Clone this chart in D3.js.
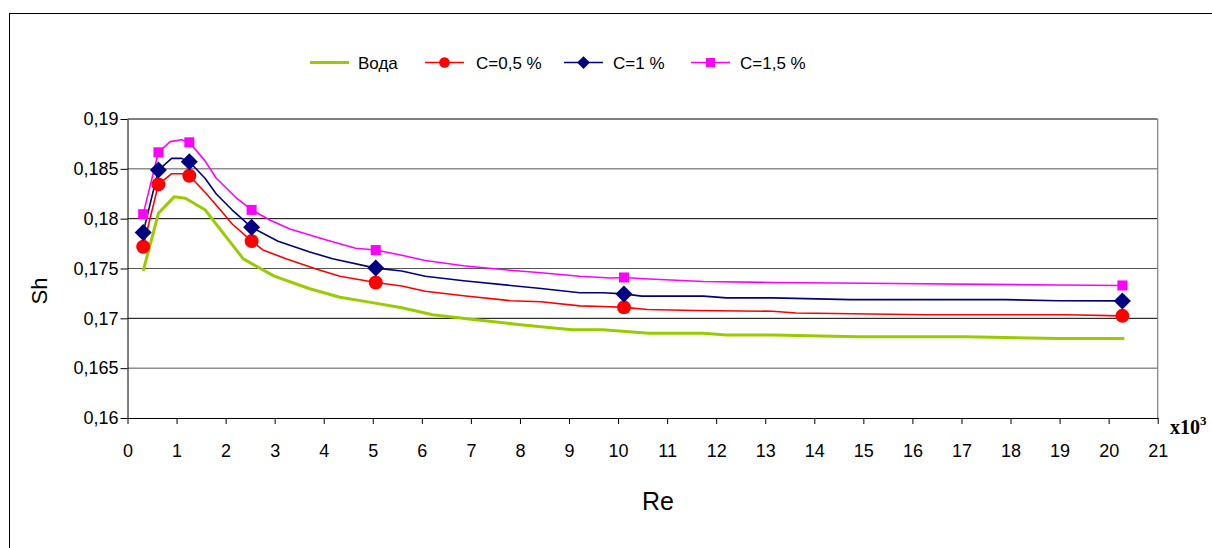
<!DOCTYPE html>
<html>
<head>
<meta charset="utf-8">
<script src="https://cdn.jsdelivr.net/npm/d3@7/dist/d3.min.js"></script>
<style>
  html, body { margin: 0; padding: 0; background: #fff; }
  svg { display: block; font-family: "Liberation Sans", Arial, sans-serif; }
</style>
</head>
<body>
<svg id="chart" width="1212" height="548"></svg>
<script>
// ---------- data ----------
const xTickValues = d3.range(0, 22);
const xTickLabels = ["0","1","2","3","4","5","6","7","8","9","10","11","12","13","14","15","16","17","18","19","20","21"];
const yTickValues = [0.16, 0.165, 0.17, 0.175, 0.18, 0.185, 0.19];
const yTickLabels = ["0,16", "0,165", "0,17", "0,175", "0,18", "0,185", "0,19"];
const seriesNames = ["Вода", "C=0,5 %", "C=1 %", "C=1,5 %"];

// Вода (water) – line only
const waterRe = [0.32, 0.63, 0.95, 1.18, 1.58, 1.97, 2.36, 2.99, 3.70, 4.33, 4.96, 5.59, 6.22, 7.01, 7.96, 9.06, 9.69, 10.63, 11.74, 12.21, 13.15, 14.89, 17.09, 18.98, 20.32];
const waterSh = [0.17475, 0.18054, 0.18219, 0.18205, 0.18089, 0.17843, 0.17597, 0.17423, 0.17299, 0.17212, 0.1716, 0.17106, 0.17036, 0.16991, 0.16938, 0.16886, 0.16886, 0.1685, 0.1685, 0.16832, 0.16832, 0.16815, 0.16815, 0.16798, 0.16798];

// C = 0.5 %
const c05Re = [0.32, 0.63, 0.90, 1.18, 1.26, 1.58, 1.89, 2.13, 2.53, 2.76, 3.23, 3.86, 4.33, 5.06, 5.59, 6.07, 6.85, 7.80, 8.43, 9.22, 9.69, 10.12, 10.60, 11.58, 13.15, 13.63, 16.31, 19.14, 20.28];
const c05Sh = [0.17718, 0.18344, 0.18451, 0.18451, 0.18431, 0.18265, 0.18089, 0.17949, 0.17775, 0.17686, 0.17598, 0.17493, 0.17423, 0.1736, 0.17324, 0.17271, 0.17226, 0.17177, 0.17167, 0.17125, 0.17118, 0.1711, 0.17089, 0.17078, 0.17071, 0.17054, 0.17036, 0.17036, 0.17025];

// C = 1 %
const c1Re = [0.32, 0.63, 0.90, 1.10, 1.26, 1.58, 1.81, 2.13, 2.53, 3.07, 3.70, 4.18, 5.06, 5.59, 6.07, 6.85, 8.43, 9.22, 9.69, 10.12, 10.48, 11.74, 12.21, 13.15, 14.73, 17.88, 18.98, 20.28];
const c1Sh = [0.17862, 0.18488, 0.18605, 0.18605, 0.18571, 0.18405, 0.18247, 0.18089, 0.17913, 0.17773, 0.17668, 0.17598, 0.17504, 0.17475, 0.17423, 0.17377, 0.17299, 0.17257, 0.17257, 0.17245, 0.17223, 0.17223, 0.17205, 0.17205, 0.17188, 0.17188, 0.17177, 0.17175];

// C = 1.5 %
const c15Re = [0.32, 0.63, 0.87, 1.10, 1.26, 1.58, 1.81, 2.21, 2.53, 2.91, 3.31, 4.02, 4.65, 5.06, 5.59, 6.07, 6.85, 7.80, 8.43, 9.22, 9.85, 10.12, 10.63, 11.74, 13.15, 15.04, 18.98, 20.28];
const c15Sh = [0.18045, 0.18666, 0.18773, 0.18791, 0.18766, 0.1858, 0.18405, 0.18212, 0.18088, 0.17984, 0.17897, 0.17791, 0.17703, 0.17685, 0.17633, 0.1758, 0.17528, 0.17482, 0.17458, 0.17423, 0.17405, 0.1741, 0.17395, 0.1737, 0.1736, 0.17352, 0.17334, 0.1733];

// measured points (markers)
const markerRe = [0.32, 0.63, 1.26, 2.53, 5.06, 10.12, 20.28];
const c05Markers = [0.17718, 0.18344, 0.18431, 0.17775, 0.1736, 0.1711, 0.17025];
const c1Markers = [0.17862, 0.18488, 0.18571, 0.17913, 0.17504, 0.17245, 0.17175];
const c15Markers = [0.18045, 0.18666, 0.18766, 0.18088, 0.17685, 0.1741, 0.1733];

// ---------- chart ----------
const svg = d3.select("#chart");
const W = 1212, H = 548;
svg.append("rect").attr("width", W).attr("height", H).attr("fill", "#fff");

// outer chart frame
svg.append("rect").attr("x", 9.5).attr("y", 13.5).attr("width", 1300).attr("height", 700)
  .attr("fill", "none").attr("stroke", "#000").attr("stroke-width", 1);

const x = d3.scaleLinear().domain([0, 21]).range([127.5, 1157.7]);
const y = d3.scaleLinear().domain([0.16, 0.19]).range([418, 119]);

// gridlines
svg.append("g").selectAll("line").data(yTickValues.filter(v => v > 0.16)).join("line")
  .attr("x1", x(0)).attr("x2", x(21))
  .attr("y1", d => y(d)).attr("y2", d => y(d))
  .attr("stroke", (d, i) => i % 2 === 0 ? "#555" : "#000")
  .attr("stroke-width", 1);

// right border of plot area
svg.append("line").attr("x1", x(21)).attr("x2", x(21)).attr("y1", y(0.19)).attr("y2", y(0.16))
  .attr("stroke", "#808080").attr("stroke-width", 1.2);

// axes
const yAxis = d3.axisLeft(y).tickValues(yTickValues)
  .tickFormat((d, i) => yTickLabels[i]).tickSize(7).tickSizeOuter(0).tickPadding(2);
const gy = svg.append("g").attr("transform", `translate(${x(0)},0)`).call(yAxis);
gy.selectAll("text").attr("font-size", 18).attr("fill", "#000").attr("font-family", "Liberation Sans, Arial, sans-serif");
gy.selectAll("line, path").attr("stroke", "#000");

const xAxis = d3.axisBottom(x).tickValues(xTickValues)
  .tickFormat((d, i) => xTickLabels[i]).tickSize(6).tickSizeOuter(0);
const gx = svg.append("g").attr("transform", `translate(0,${y(0.16)})`).call(xAxis);
gx.selectAll("text").attr("font-size", 18).attr("fill", "#000").attr("dy", null).attr("y", 39)
  .attr("font-family", "Liberation Sans, Arial, sans-serif");
gx.selectAll("line, path").attr("stroke", "#000");

// axis titles
svg.append("text").attr("x", 658).attr("y", 510).attr("text-anchor", "middle")
  .attr("font-size", 25).attr("fill", "#000").text("Re");
svg.append("text").attr("transform", "translate(47,291) rotate(-90)").attr("text-anchor", "middle")
  .attr("font-size", 22).attr("fill", "#000").text("Sh");
const xm = svg.append("text").attr("x", 1170).attr("y", 434)
  .attr("font-family", "Liberation Serif, Times New Roman, serif").attr("font-weight", "bold")
  .attr("font-size", 20).attr("fill", "#000");
xm.append("tspan").text("x10");
xm.append("tspan").attr("dy", -9).attr("font-size", 13).text("3");

// lines
const line = d3.line().x(d => x(d[0])).y(d => y(d[1]));
const zip = (a, b) => a.map((v, i) => [v, b[i]]);

const series = [
  { re: waterRe, sh: waterSh, color: "#99CC00", width: 3, markers: null, shape: null },
  { re: c05Re, sh: c05Sh, color: "#FF0000", width: 1.6, markers: c05Markers, shape: "circle" },
  { re: c1Re, sh: c1Sh, color: "#000080", width: 1.6, markers: c1Markers, shape: "diamond" },
  { re: c15Re, sh: c15Sh, color: "#FF00FF", width: 1.6, markers: c15Markers, shape: "square" }
];

function drawMarker(g, shape, cx, cy, color, scale) {
  if (shape === "circle") {
    g.append("circle").attr("cx", cx).attr("cy", cy).attr("r", 7 * scale).attr("fill", color);
  } else if (shape === "diamond") {
    const s = 8.5 * scale;
    g.append("path").attr("d", `M${cx},${cy - s}L${cx + s},${cy}L${cx},${cy + s}L${cx - s},${cy}Z`).attr("fill", color);
  } else if (shape === "square") {
    const s = 5 * scale;
    g.append("rect").attr("x", cx - s).attr("y", cy - s).attr("width", 2 * s).attr("height", 2 * s).attr("fill", color);
  }
}

const plot = svg.append("g");
series.forEach(s => {
  plot.append("path").datum(zip(s.re, s.sh)).attr("d", line)
    .attr("fill", "none").attr("stroke", s.color).attr("stroke-width", s.width)
    .attr("stroke-linejoin", "round");
});
series.forEach(s => {
  if (!s.markers) return;
  markerRe.forEach((r, i) => drawMarker(plot, s.shape, x(r), y(s.markers[i]), s.color, 1));
});

// legend
const legendX = [310, 425, 564, 691];
const legendTextX = [358, 476, 613, 740];
const legendY = 62.5;
const lg = svg.append("g");
series.forEach((s, i) => {
  lg.append("line").attr("x1", legendX[i]).attr("x2", legendX[i] + 39)
    .attr("y1", legendY).attr("y2", legendY)
    .attr("stroke", s.color).attr("stroke-width", s.width);
  if (s.shape) {
    const sc = s.shape === "circle" ? 0.76 : (s.shape === "diamond" ? 0.75 : 0.9);
    drawMarker(lg, s.shape, legendX[i] + 19.5, legendY, s.color, sc);
  }
  lg.append("text").attr("x", legendTextX[i]).attr("y", 68.5)
    .attr("font-size", 17).attr("fill", "#000").text(seriesNames[i]);
});
</script>
</body>
</html>
